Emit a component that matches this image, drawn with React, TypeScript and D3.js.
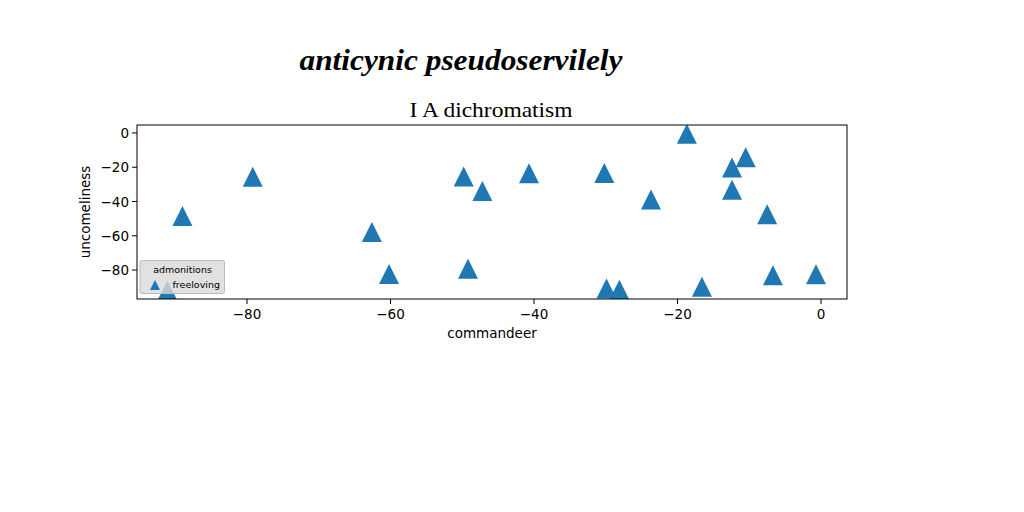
import React from "react";
import * as d3 from "d3";

const title = "anticynic pseudoservilely";
const subtitle = "I A dichromatism";
const xLabel = "commandeer";
const yLabel = "uncomeliness";
const legendTitle = "admonitions";
const seriesName = "freeloving";

const xValues = [-89.0, -79.2, -91.1, -62.6, -60.2, -49.8, -47.2, -49.2, -40.7, -30.2, -29.9, -28.1, -23.7, -18.7, -16.6, -12.4, -10.5, -12.4, -7.5, -6.7, -0.7];
const yValues = [-48.5, -25.6, -92.0, -57.8, -82.3, -25.4, -33.9, -79.3, -23.5, -23.3, -90.8, -91.5, -38.9, -0.5, -89.8, -20.2, -14.2, -33.1, -47.4, -83.1, -82.5];

const xTicks = [-80, -60, -40, -20, 0];
const yTicks = [0, -20, -40, -60, -80];

const W = 1024;
const H = 512;
const left = 137;
const right = 847;
const top = 125;
const bottom = 299;
const color = "#1f77b4";

function tri(cx: number, cy: number, s: number) {
  const h = s / 2;
  return `M${cx},${cy - h}L${cx - h},${cy + h}L${cx + h},${cy + h}Z`;
}

export default function App() {
  const x = d3.scaleLinear().domain([-95.33, 3.62]).range([left, right]);
  const y = d3.scaleLinear().domain([4.65, -96.9]).range([top, bottom]);
  const fmt = (v: number) => (v < 0 ? "\u2212" + Math.abs(v) : String(v));
  const font = "DejaVu Sans, sans-serif";
  return (
    <svg width={W} height={H} style={{ position: "absolute", left: 0, top: 0 }} xmlns="http://www.w3.org/2000/svg">
      <rect x={0} y={0} width={W} height={H} fill="#ffffff" />
      <defs>
        <clipPath id="ax">
          <rect x={left} y={top} width={right - left} height={bottom - top} />
        </clipPath>
      </defs>
      <text x={461} y={70} textAnchor="middle" fontFamily="Liberation Serif, serif" fontStyle="italic" fontWeight="bold" fontSize={30} textLength={323} lengthAdjust="spacingAndGlyphs" fill="#000">{title}</text>
      <text x={491} y={117} textAnchor="middle" fontFamily="Liberation Serif, serif" fontSize={21} textLength={163} lengthAdjust="spacingAndGlyphs" fill="#000">{subtitle}</text>
      <g clipPath="url(#ax)">
        {xValues.map((xv, i) => (
          <path key={i} d={tri(x(xv), y(yValues[i]), 20)} fill={color} />
        ))}
      </g>
      <rect x={left} y={top} width={right - left} height={bottom - top} fill="none" stroke="#000" strokeWidth={1} />
      {xTicks.map((t) => (
        <g key={"x" + t}>
          <line x1={x(t)} x2={x(t)} y1={bottom} y2={bottom + 5} stroke="#000" strokeWidth={1} />
          <text x={x(t)} y={bottom + 20} textAnchor="middle" fontFamily={font} fontSize={13.5} fill="#000">{fmt(t)}</text>
        </g>
      ))}
      {yTicks.map((t) => (
        <g key={"y" + t}>
          <line x1={left - 5} x2={left} y1={y(t)} y2={y(t)} stroke="#000" strokeWidth={1} />
          <text x={left - 8} y={y(t) + 5} textAnchor="end" fontFamily={font} fontSize={13.5} fill="#000">{fmt(t)}</text>
        </g>
      ))}
      <text x={(left + right) / 2} y={338} textAnchor="middle" fontFamily={font} fontSize={13.5} fill="#000">{xLabel}</text>
      <text transform={`translate(90,${(top + bottom) / 2}) rotate(-90)`} textAnchor="middle" fontFamily={font} fontSize={13.5} fill="#000">{yLabel}</text>
      <g>
        <rect x={140} y={260.5} width={84.5} height={33} rx={2} fill="#d9d9d9" fillOpacity={0.8} stroke="#bbbbbb" strokeWidth={1} />
        <text x={182.5} y={273} textAnchor="middle" fontFamily={font} fontSize={9.5} fill="#000">{legendTitle}</text>
        <path d={tri(155, 285, 10)} fill={color} />
        <text x={172.5} y={288} fontFamily={font} fontSize={9.5} fill="#000">{seriesName}</text>
      </g>
    </svg>
  );
}
